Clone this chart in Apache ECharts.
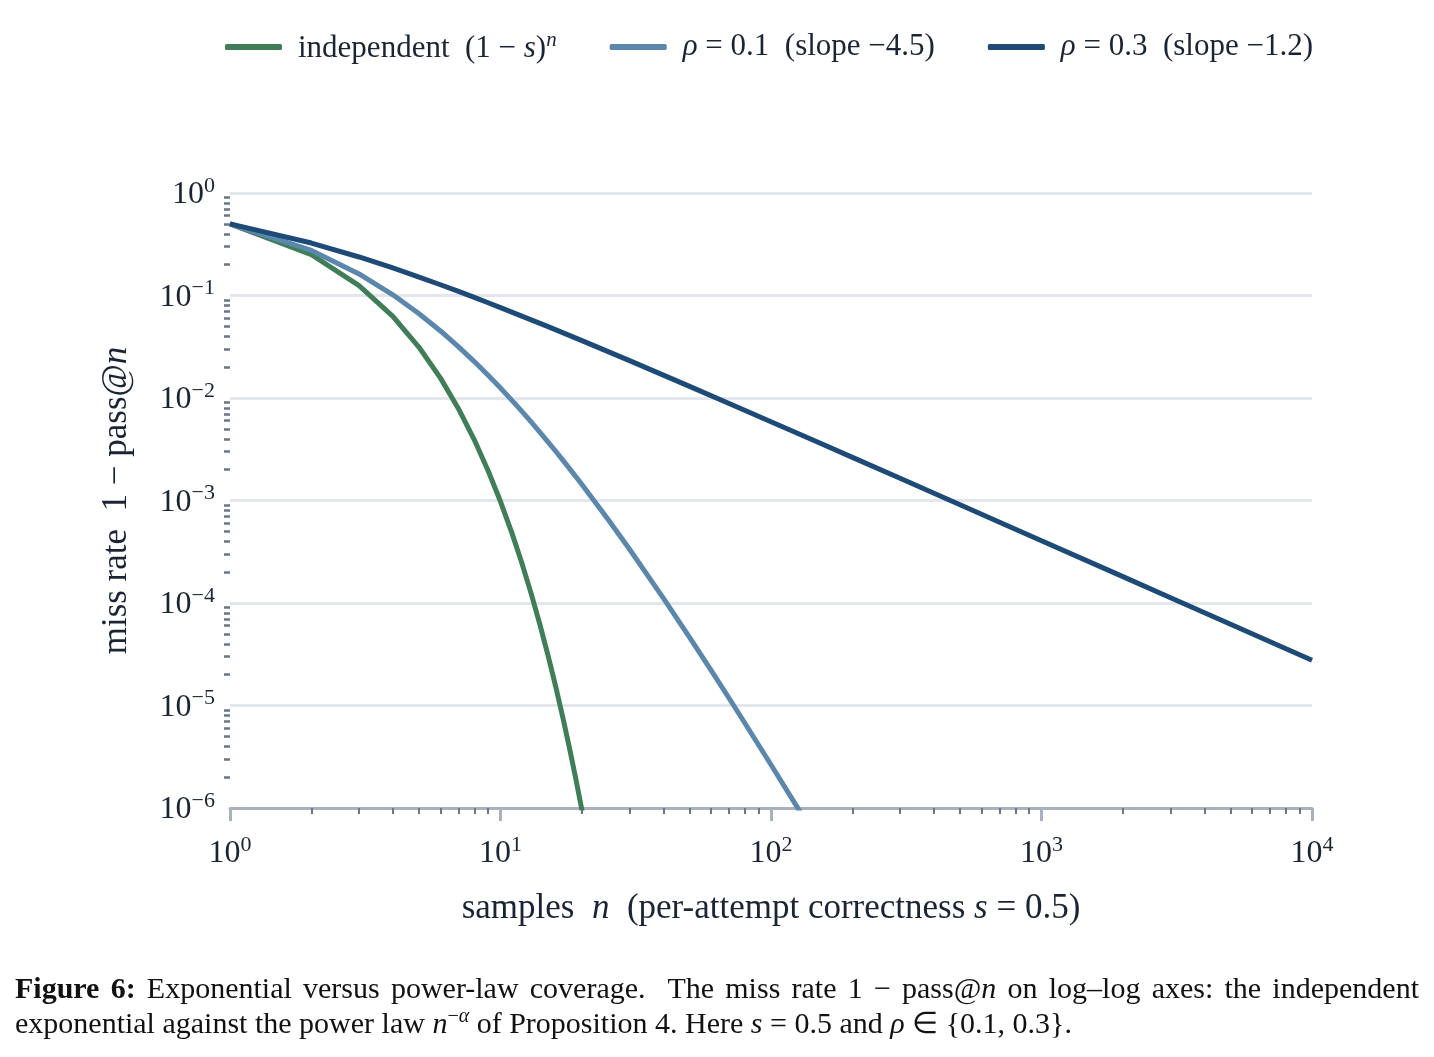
<!DOCTYPE html>
<html>
<head>
<meta charset="utf-8">
<title>Exponential versus power-law coverage</title>
<script src="https://cdn.jsdelivr.net/npm/echarts@6/dist/echarts.min.js"></script>
<style>
  html, body { margin: 0; padding: 0; background: #fff; }
  #chart { position: absolute; left: 0; top: 0; width: 1434px; height: 1057px; }
  .cap {
    position: absolute; left: 15px; width: 1404px;
    font-family: 'Liberation Serif', 'Times New Roman', serif;
    font-size: 30px; line-height: 35px; color: #111;
  }
  #cap1 { top: 970px; text-align: justify; text-align-last: justify; }
  #cap2 { top: 1005px; white-space: nowrap; }
  sup { font-size: 20px; line-height: 0; }
</style>
</head>
<body>
<div id="chart"></div>
<div class="cap" id="cap1"><b>Figure 6:</b> Exponential versus power-law coverage.&nbsp; The miss rate 1 − pass@<i>n</i> on log–log axes: the independent</div>
<div class="cap" id="cap2">exponential against the power law <i>n</i><sup>−<i>α</i></sup> of Proposition 4. Here <i>s</i> = 0.5 and <i>ρ</i> ∈ {0.1, 0.3}.</div>
<script>
// series names (legend order = draw order)
const seriesNames = ['independent', 'rho01', 'rho03'];
const legendLabels = [
  '{g| }{t|independent  (1 − }{i|s}{t|)}{sup|n}',
  '{g| }{i|ρ}{t| = 0.1  (slope −4.5)}',
  '{g| }{i|ρ}{t| = 0.3  (slope −1.2)}'
];
const seriesColors = ['#3f7e57', '#5b87ad', '#1e4a78'];

// independent (1 - s)^n, s = 0.5
const nInd = [1, 2, 3, 4, 5, 6, 7, 8, 9, 10, 11, 12, 13, 14, 15, 16, 17, 18, 19, 20, 21];
const missInd = [0.5, 0.25, 0.125, 0.0625, 0.03125, 0.015625, 0.0078125, 0.00390625,
  0.001953, 0.0009766, 0.0004883, 0.0002441, 0.0001221, 6.104e-5, 3.052e-5,
  1.526e-5, 7.629e-6, 3.815e-6, 1.907e-6, 9.537e-7, 4.768e-7];

// rho = 0.1
const nRho1 = [1, 2, 3, 4, 5, 6, 7, 8, 9, 10, 11, 12, 13, 14, 15, 16, 17, 18, 19, 20,
  25, 30, 40, 50, 60, 70, 80, 100, 125, 130];
const missRho1 = [0.5, 0.275, 0.1625, 0.1016, 0.06641, 0.04506, 0.03154, 0.02267, 0.01667, 0.0125,
  0.009542, 0.007395, 0.00581, 0.004622, 0.003718, 0.003021, 0.002477, 0.002048, 0.001707, 0.001433,
  6.53e-4, 3.35e-4, 1.117e-4, 4.63e-5, 2.218e-5, 1.177e-5, 6.75e-6, 2.642e-6, 1.02e-6, 8.63e-7];

// rho = 0.3
const nRho3 = [1, 2, 3, 4, 5, 6, 7, 8, 9, 10, 15, 20, 30, 50, 70, 100, 150, 200, 300,
  500, 700, 1000, 2000, 3000, 5000, 10000];
const missRho3 = [0.5, 0.325, 0.2375, 0.1856, 0.1514, 0.1273, 0.1095, 0.09579, 0.08497, 0.07622,
  0.04962, 0.03631, 0.02314, 0.01299, 0.008846, 0.005872, 0.003676, 0.002634, 0.001646,
  9.079e-4, 6.138e-4, 4.052e-4, 1.807e-4, 1.127e-4, 6.208e-5, 2.762e-5];

// axis ticks
const xMajor = [1, 10, 100, 1000, 10000];
const xMajorExp = ['0', '1', '2', '3', '4'];
const yMajor = [1e-6, 1e-5, 1e-4, 1e-3, 1e-2, 1e-1, 1];
const yMajorExp = ['−6', '−5', '−4', '−3', '−2', '−1', '0'];

const minorOf = (decades) => {
  const out = [];
  decades.forEach(d => { for (let k = 2; k <= 9; k++) out.push(k * d); });
  return out;
};
const xMinor = minorOf([1, 10, 100, 1000]);
const yMinor = minorOf([1e-6, 1e-5, 1e-4, 1e-3, 1e-2, 1e-1]);

const FONT = "'Liberation Serif', 'Times New Roman', serif";
const INK = '#1b2434';
const AXIS_GRAY = '#a9b1bd';
const TICK_DARK = '#6a7585';

const pairs = (xs, ys) => xs.map((x, i) => [x, ys[i]]);

const findExp = (list, exps, value) => {
  const i = list.findIndex(v => Math.abs(Math.log10(v) - Math.log10(value)) < 1e-6);
  return i < 0 ? '' : '{b|10}{e|' + exps[i] + '}';
};

const tickRich = {
  b: { fontFamily: FONT, fontSize: 32, color: INK, verticalAlign: 'bottom' },
  e: { fontFamily: FONT, fontSize: 22, color: INK, verticalAlign: 'bottom', padding: [0, 0, 14, 0] }
};

const textRich = (size, supSize) => ({
  t: { fontFamily: FONT, fontSize: size, color: INK, verticalAlign: 'bottom' },
  i: { fontFamily: FONT, fontSize: size, color: INK, fontStyle: 'italic', verticalAlign: 'bottom' },
  sup: { fontFamily: FONT, fontSize: supSize, color: INK, fontStyle: 'italic', verticalAlign: 'bottom', padding: [0, 0, 13, 0] },
  g: { width: 11 }
});

const chart = echarts.init(document.getElementById('chart'));

chart.setOption({
  animation: false,
  backgroundColor: '#ffffff',
  grid: { left: 230, right: 122, top: 193, bottom: 249 },
  legend: {
    data: seriesNames,
    left: 220,
    top: 25,
    icon: 'roundRect',
    itemWidth: 57,
    itemHeight: 6,
    itemGap: 53,
    formatter: name => legendLabels[seriesNames.indexOf(name)],
    textStyle: { fontFamily: FONT, fontSize: 31, color: INK, rich: textRich(31, 21) }
  },
  xAxis: [
    {
      type: 'log', logBase: 10, min: 1, max: 10000,
      name: '{t|samples  }{i|n}{t|  (per-attempt correctness }{i|s}{t| = 0.5)}',
      nameLocation: 'middle',
      nameGap: 83,
      nameTextStyle: { rich: textRich(35, 24) },
      axisLine: { show: true, lineStyle: { color: AXIS_GRAY, width: 3 } },
      axisTick: { show: true, customValues: xMajor, length: 13, lineStyle: { color: AXIS_GRAY, width: 3 } },
      axisLabel: {
        customValues: xMajor,
        margin: 26,
        formatter: v => findExp(xMajor, xMajorExp, v),
        rich: tickRich
      },
      splitLine: { show: false },
      minorTick: { show: false }
    },
    {
      type: 'log', logBase: 10, min: 1, max: 10000,
      position: 'bottom',
      axisLine: { show: false },
      axisTick: { show: true, customValues: xMinor, length: 6, lineStyle: { color: TICK_DARK, width: 2 } },
      axisLabel: { show: false },
      splitLine: { show: false }
    }
  ],
  yAxis: [
    {
      type: 'log', logBase: 10, min: 1e-6, max: 1,
      name: '{t|miss rate  1 − pass@}{i|n}',
      nameLocation: 'middle',
      nameRotate: 90,
      nameGap: 96,
      nameTextStyle: { rich: textRich(35, 24) },
      axisLine: { show: false },
      axisTick: { show: false, customValues: yMajor },
      axisLabel: {
        customValues: yMajor,
        margin: 15,
        formatter: v => findExp(yMajor, yMajorExp, v),
        rich: tickRich
      },
      splitLine: { show: true, lineStyle: { color: '#e3e6ec', width: 3 } }
    },
    {
      type: 'log', logBase: 10, min: 1e-6, max: 1,
      position: 'left',
      axisLine: { show: false },
      axisTick: { show: true, customValues: yMinor, length: 6, lineStyle: { color: TICK_DARK, width: 2.5 } },
      axisLabel: { show: false },
      splitLine: { show: false }
    }
  ],
  series: [
    { name: seriesNames[0], data: pairs(nInd, missInd) },
    { name: seriesNames[1], data: pairs(nRho1, missRho1) },
    { name: seriesNames[2], data: pairs(nRho3, missRho3) }
  ].map((s, i) => ({
    ...s,
    type: 'line',
    xAxisIndex: 0,
    yAxisIndex: 0,
    showSymbol: false,
    symbol: 'none',
    clip: true,
    color: seriesColors[i],
    lineStyle: { width: 5, color: seriesColors[i], join: 'round' }
  }))
});
</script>
</body>
</html>
